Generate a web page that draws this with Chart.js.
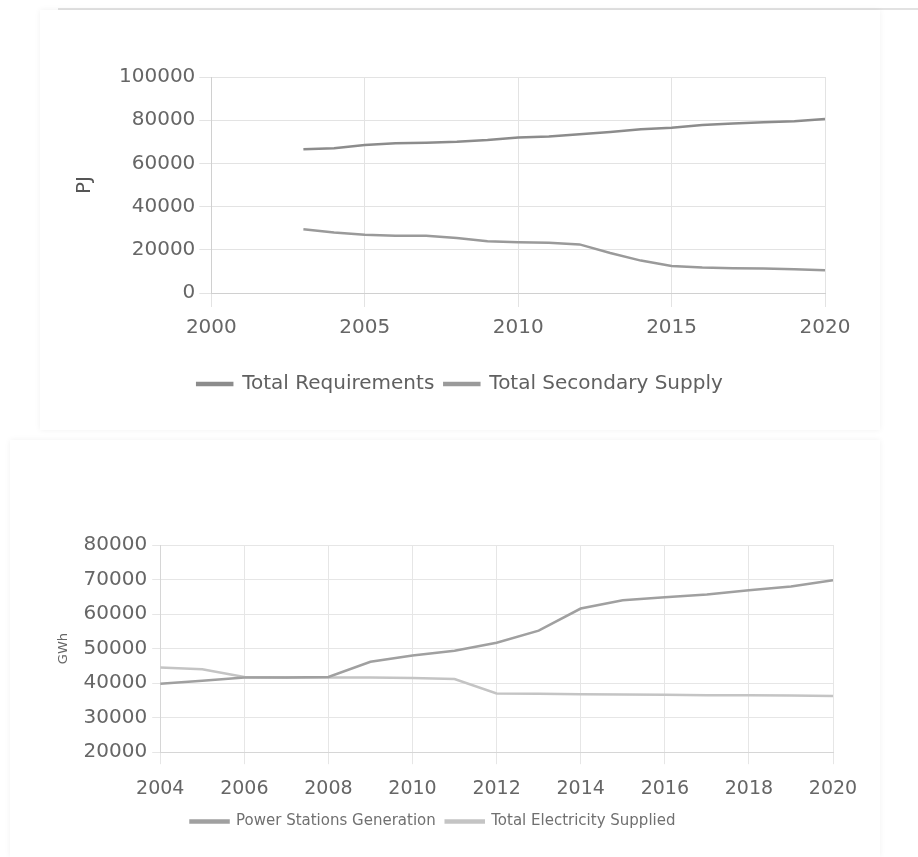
<!DOCTYPE html>
<html>
<head>
<meta charset="utf-8">
<script src="https://cdn.jsdelivr.net/npm/chart.js@4"></script>
<style>
  html, body { margin:0; padding:0; background:#fff; }
  body { width:918px; height:857px; position:relative; overflow:hidden; font-family:"DejaVu Sans", sans-serif; }
  .rule { position:absolute; left:58px; top:8px; width:860px; height:2px; background:#e2e2e2; }
  .card { position:absolute; background:#fff; box-shadow:0 0 6px rgba(0,0,0,0.06); }
  #c1wrap { left:40px; top:10px; width:840px; height:420px; }
  #c2wrap { left:10px; top:440px; width:870px; height:417px; }
  canvas { display:block; }
</style>
</head>
<body>
<div class="rule"></div>
<div class="card" id="c1wrap"><canvas id="c1" width="840" height="420"></canvas></div>
<div class="card" id="c2wrap"><canvas id="c2" width="870" height="417"></canvas></div>
<script>
// ---- Top chart data ----
const topYears = [2003,2004,2005,2006,2007,2008,2009,2010,2011,2012,2013,2014,2015,2016,2017,2018,2019,2020];
const totalRequirements = [66500,67000,68500,69300,69600,70000,70800,72000,72500,73500,74500,75800,76500,77800,78500,79000,79500,80500];
const totalSecondarySupply = [29500,28000,27000,26500,26500,25500,24000,23500,23300,22500,18500,15000,12500,11800,11500,11300,11000,10500];
const topXTicks = [2000,2005,2010,2015,2020];
const topYTicks = [0,20000,40000,60000,80000,100000];
const topLabels = ["Total Requirements","Total Secondary Supply"];

// ---- Bottom chart data ----
const bottomYears = [2004,2005,2006,2007,2008,2009,2010,2011,2012,2013,2014,2015,2016,2017,2018,2019,2020];
const seriesA = [39800,40700,41600,41600,41800,46200,48000,49400,51700,55200,61600,64000,64900,65700,66900,68000,69800];
const seriesB = [44500,44000,41800,41600,41600,41600,41500,41200,37000,36900,36800,36700,36600,36500,36500,36400,36300];
const bottomXTicks = [2004,2006,2008,2010,2012,2014,2016,2018,2020];
const bottomYTicks = [20000,30000,40000,50000,60000,70000,80000];
const bottomLabels = ["Power Stations Generation","Total Electricity Supplied"];

Chart.defaults.font.family = "'DejaVu Sans', sans-serif";
Chart.defaults.color = "#666";

// shifts the legend box after layout so it sits where the reference has it
const legendShift = {
  id: 'legendShift',
  afterLayout(chart, args, opts) {
    const lg = chart.legend;
    if (!lg) return;
    lg.left += opts.dx || 0; lg.right += opts.dx || 0;
    lg.top += opts.dy || 0; lg.bottom += opts.dy || 0;
  }
};

const pts = (xs, ys) => xs.map((x, i) => ({x: x, y: ys[i]}));

new Chart(document.getElementById('c1'), {
  type: 'line',
  plugins: [legendShift],
  data: {
    datasets: [
      { label: topLabels[0], data: pts(topYears, totalRequirements), borderColor:'#8c8c8c', backgroundColor:'#8c8c8c', borderWidth:2.5, pointRadius:0, tension:0 },
      { label: topLabels[1], data: pts(topYears, totalSecondarySupply), borderColor:'#9a9a9a', backgroundColor:'#9a9a9a', borderWidth:2.5, pointRadius:0, tension:0 }
    ]
  },
  options: {
    responsive:false, animation:false, devicePixelRatio:1,
    layout: { padding: { left:29, right:55, top:67, bottom:41 } },
    plugins: {
      legendShift: { dx:13, dy:15 },
      legend: { position:'bottom', labels: { font:{size:20}, boxWidth:35, boxHeight:2, padding:10, color:'#606060' } },
      tooltip: { enabled:false }
    },
    scales: {
      x: {
        type:'linear', min:topXTicks[0], max:topXTicks[topXTicks.length-1],
        afterBuildTicks: s => { s.ticks = topXTicks.map(v => ({value:v})); },
        ticks: { font:{size:20}, padding:9, callback: v => String(v), maxRotation:0 },
        grid: { color:'#e3e3e3', tickLength:14 },
        border: { color:'#d0d0d0' }
      },
      y: {
        min:topYTicks[0], max:topYTicks[topYTicks.length-1],
        afterBuildTicks: s => { s.ticks = topYTicks.map(v => ({value:v})); },
        title: { display:true, text:'PJ', font:{size:20}, padding:{top:4, bottom:18}, color:'#555' },
        ticks: { font:{size:20}, padding:4, callback: v => String(v) },
        grid: { color:'#e3e3e3', tickLength:12 },
        border: { color:'#d0d0d0' }
      }
    }
  }
});

new Chart(document.getElementById('c2'), {
  type: 'line',
  plugins: [legendShift],
  data: {
    datasets: [
      { label: bottomLabels[0], data: pts(bottomYears, seriesA), borderColor:'#a0a0a0', backgroundColor:'#a0a0a0', borderWidth:2.5, pointRadius:0, tension:0 },
      { label: bottomLabels[1], data: pts(bottomYears, seriesB), borderColor:'#c4c4c4', backgroundColor:'#c4c4c4', borderWidth:2.5, pointRadius:0, tension:0 }
    ]
  },
  options: {
    responsive:false, animation:false, devicePixelRatio:1,
    layout: { padding: { left:39, right:47, top:105, bottom:9 } },
    plugins: {
      legendShift: { dx:-8, dy:-9 },
      legend: { position:'bottom', labels: { font:{size:15}, boxWidth:38, boxHeight:2, padding:10, color:'#707070' } },
      tooltip: { enabled:false }
    },
    scales: {
      x: {
        type:'linear', min:bottomXTicks[0], max:bottomXTicks[bottomXTicks.length-1],
        afterBuildTicks: s => { s.ticks = bottomXTicks.map(v => ({value:v})); },
        ticks: { font:{size:19}, padding:13, callback: v => String(v), maxRotation:0 },
        grid: { color:'#e6e6e6', tickLength:12 },
        border: { color:'#d6d6d6' }
      },
      y: {
        min:bottomYTicks[0], max:bottomYTicks[bottomYTicks.length-1],
        afterBuildTicks: s => { s.ticks = bottomYTicks.map(v => ({value:v})); },
        title: { display:true, text:'GWh', font:{size:13}, padding:{top:7, bottom:7}, color:'#666' },
        ticks: { font:{size:20}, padding:5, callback: v => String(v) },
        grid: { color:'#e6e6e6', tickLength:8 },
        border: { color:'#d6d6d6' }
      }
    }
  }
});
</script>
</body>
</html>
